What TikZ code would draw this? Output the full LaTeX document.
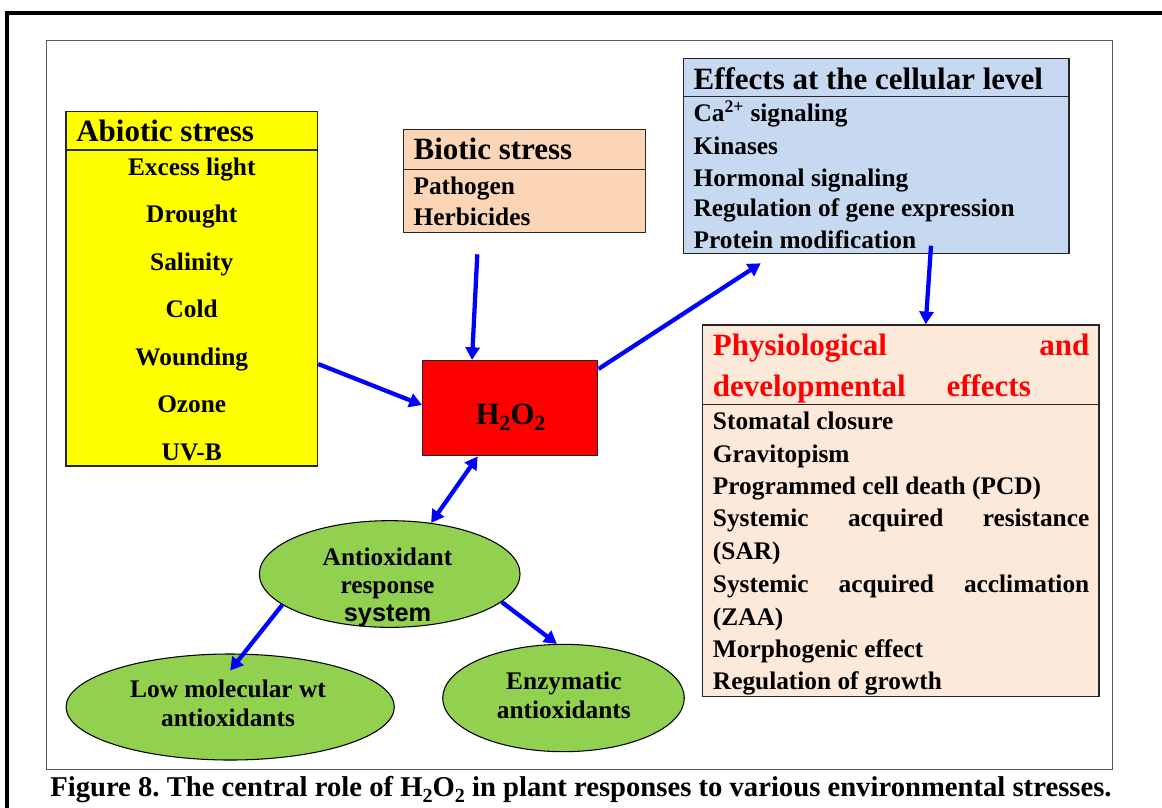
\documentclass[tikz,border=0pt]{standalone}
\usepackage{fontspec}
\usepackage{graphicx}
\usepackage{xcolor}
\usetikzlibrary{arrows.meta,shapes.geometric,fit}
\setmainfont{Liberation Serif}
\newfontfamily\arialfont{Liberation Sans}
\frenchspacing
\definecolor{sun}{HTML}{FFFF00}
\definecolor{peach}{HTML}{FBD5B5}
\definecolor{sky}{HTML}{C6D9F1}
\definecolor{blush}{HTML}{FDE9D9}
\definecolor{leaf}{HTML}{92D050}
\definecolor{flowblue}{HTML}{0000FF}
\definecolor{hot}{HTML}{FF0000}
\newcommand{\lowtwo}{\raisebox{-0.22em}{\scalebox{0.7}{2}}}
\tikzset{
  outerline/.style={draw=black, line width=3pt},
  panel/.style={draw=black!65, line width=1pt},
  stressbox/.style={draw=black!85, line width=1.1pt, inner sep=0pt},
  blob/.style={ellipse, draw=black, line width=0.8pt, fill=leaf, inner sep=0pt},
  title/.style={inner sep=0pt, font=\fontsize{23.25}{28}\selectfont\bfseries},
  entry/.style={inner sep=0pt, font=\fontsize{19}{23}\selectfont\bfseries},
  caption/.style={inner sep=0pt, font=\fontsize{21.5}{26}\selectfont\bfseries},
  flow/.style={draw=flowblue, line width=3.2pt, -{Triangle[length=9.5pt,width=10.5pt]}},
  twoway/.style={flow, {Triangle[length=9.5pt,width=10.5pt]}-{Triangle[length=9.5pt,width=10.5pt]}},
}

\begin{document}
\begin{tikzpicture}[x=0.75pt,y=-0.75pt]
  \useasboundingbox (0,0) rectangle (1162,807);
  \draw[outerline] (7,830) -- (7,13) -- (1190,13);
  \draw[panel] (46.7,40.7) rectangle (1112.3,769.5);

  % boxes
  \node[stressbox,fill=sun,fit={(66,111.5) (317.5,466)}] (abiotic) {};
  \node[stressbox,fill=peach,fit={(403.3,129.3) (645.7,232.7)}] (biotic) {};
  \node[stressbox,fill=sky,fit={(683.3,58.3) (1069,253.7)}] (cellular) {};
  \node[stressbox,fill=blush,fit={(702.7,325) (1099,696.7)}] (physio) {};
  \node[stressbox,fill=hot,fit={(422.7,360.7) (597.7,455.7)}] (h2o2) {};
  \draw[stressbox] (abiotic.west |- 0,150) -- (abiotic.east |- 0,150);
  \draw[stressbox] (biotic.west |- 0,169.3) -- (biotic.east |- 0,169.3);
  \draw[stressbox] (cellular.west |- 0,96.7) -- (cellular.east |- 0,96.7);
  \draw[stressbox] (physio.west |- 0,404.3) -- (physio.east |- 0,404.3);

  \node[blob,minimum width=195.5pt,minimum height=80pt] (antiox) at (389.7,574) {};
  \node[blob,minimum width=246.2pt,minimum height=79.5pt] (lowmw) at (230.2,707) {};
  \node[blob,minimum width=181.2pt,minimum height=80.5pt] (enzym) at (563.5,698) {};

  % abiotic stress
  \node[title,anchor=base west] (abtitle) at (76,141.7) {Abiotic stress};
  \node[entry,anchor=base] (ab1) at (191.75,175) {Excess light};
  \node[entry,anchor=base] (ab2) at (191.75,222.5) {Drought};
  \node[entry,anchor=base] (ab3) at (191.75,270) {Salinity};
  \node[entry,anchor=base] (ab4) at (191.75,317.5) {Cold};
  \node[entry,anchor=base] (ab5) at (191.75,365) {Wounding};
  \node[entry,anchor=base] (ab6) at (191.75,412.5) {Ozone};
  \node[entry,anchor=base] (ab7) at (191.75,460) {UV-B};

  % biotic stress
  \node[title,anchor=base west] (bititle) at (413.3,159) {Biotic stress};
  \node[entry,anchor=base west] (bi1) at (413.3,194) {Pathogen};
  \node[entry,anchor=base west] (bi2) at (413.3,225.7) {Herbicides};

  % cellular level
  \node[title,anchor=base west] (cetitle) at (693.3,89.3) {Effects at the cellular level};
  \node[entry,anchor=base west] (ce1) at (693.3,121) {Ca\textsuperscript{2+} signaling};
  \node[entry,anchor=base west] (ce2) at (693.3,154.3) {Kinases};
  \node[entry,anchor=base west] (ce3) at (693.3,186.7) {Hormonal signaling};
  \node[entry,anchor=base west] (ce4) at (693.3,216.7) {Regulation of gene expression};
  \node[entry,anchor=base west] (ce5) at (693.3,248.3) {Protein modification};

  % physiological effects
  \node[title,text=hot,anchor=base west] (phtitle1) at (712.7,355.7) {\makebox[282.2pt][s]{Physiological and}};
  \node[title,text=hot,anchor=base west] (phtitle2) at (712.7,396.7) {developmental\hspace{30.5pt}effects};
  \node[entry,anchor=base west] (ph1) at (712.7,429) {Stomatal closure};
  \node[entry,anchor=base west] (ph2) at (712.7,462) {Gravitopism};
  \node[entry,anchor=base west] (ph3) at (712.7,494.7) {Programmed cell death (PCD)};
  \node[entry,anchor=base west] (ph4) at (712.7,526.7) {\makebox[282.2pt][s]{Systemic acquired resistance}};
  \node[entry,anchor=base west] (ph5) at (712.7,559.3) {(SAR)};
  \node[entry,anchor=base west] (ph6) at (712.7,592.7) {\makebox[282.2pt][s]{Systemic acquired acclimation}};
  \node[entry,anchor=base west] (ph7) at (712.7,625.3) {(ZAA)};
  \node[entry,anchor=base west] (ph8) at (712.7,657.7) {Morphogenic effect};
  \node[entry,anchor=base west] (ph9) at (712.7,689.3) {Regulation of growth};

  \node[title,anchor=base] (h2o2text) at (510.5,424) {H\lowtwo O\lowtwo};

  % antioxidants
  \node[entry,anchor=base] (ao1) at (387.5,565.7) {Antioxidant};
  \node[entry,anchor=base] (ao2) at (387.5,593.3) {response};
  \node[entry,anchor=base,font=\fontsize{19}{23}\selectfont\arialfont\bfseries] (ao3) at (387.5,621.7) {system};
  \node[entry,anchor=base] (lm1) at (228,697.7) {Low molecular wt};
  \node[entry,anchor=base] (lm2) at (228,726.7) {antioxidants};
  \node[entry,anchor=base] (en1) at (563.8,689.3) {Enzymatic};
  \node[entry,anchor=base] (en2) at (563.8,718.3) {antioxidants};

  \node[caption,anchor=base west] (figcap) at (50,796) {Figure 8. The central role of H\lowtwo O\lowtwo{} in plant responses to various environmental stresses.};

  % arrows
  \coordinate (bioout) at (477.3,254.3);
  \coordinate (cellin) at (760.7,263.3);
  \coordinate (cellout) at (931,245.7);
  \draw[flow] (abiotic.east |- 0,364) -- (h2o2.west |- 0,405);
  \draw[flow] (bioout) -- (472,0 |- h2o2.north);
  \draw[flow] (h2o2.east |- 0,369) -- (cellin);
  \draw[flow] (cellout) -- (925.7,0 |- physio.north);
  \draw[twoway] (h2o2.south -| 477.7,0) -- (antiox.51);
  \draw[flow] (antiox.196) -- ([yshift=-12.75pt]lowmw.north);
  \draw[flow] (antiox.-14) -- (enzym.97);
\end{tikzpicture}
\end{document}
